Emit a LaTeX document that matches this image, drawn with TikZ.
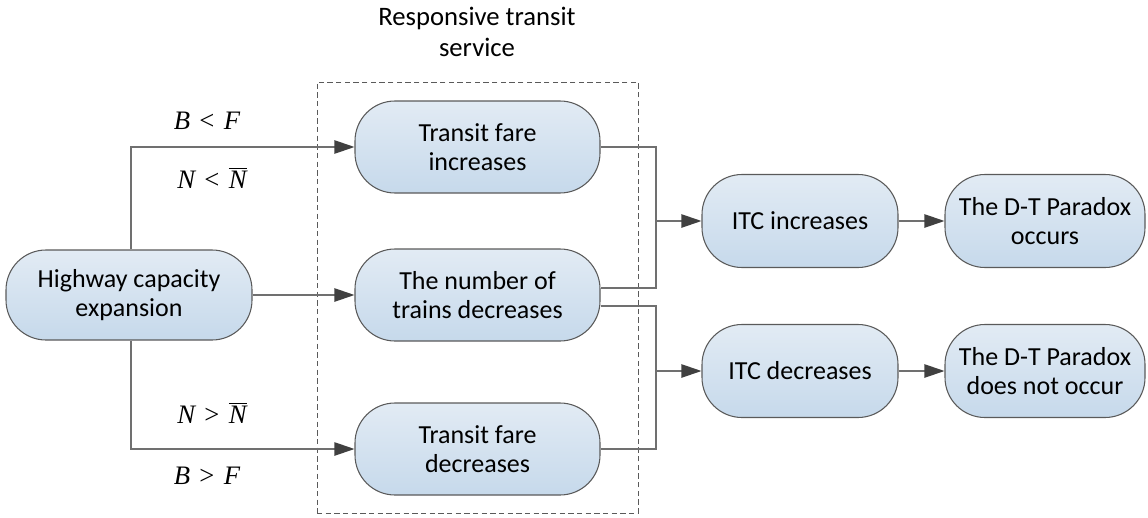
\documentclass[tikz,border=0pt]{standalone}
\usepackage{fontspec}
\setmainfont{Carlito}
\newfontfamily\serif{Liberation Serif}
\usetikzlibrary{arrows.meta,calc}
\definecolor{boxtop}{HTML}{E2EBF4}
\definecolor{boxbot}{HTML}{C6D9EB}
\definecolor{edge}{HTML}{5A5A5A}
\definecolor{wire}{HTML}{707070}
\definecolor{tip}{HTML}{404040}
\newcommand{\Nbar}{$\overline{\hbox{\serif\itshape N}}$}
\tikzset{
  pbox/.style={draw=edge, line width=0.8pt, rounded corners=30pt, top color=boxtop, bottom color=boxbot,
    align=center, font=\fontsize{19.5}{22}\selectfont, inner sep=0pt},
  wirel/.style={draw=wire, line width=1pt},
  arr/.style={wirel, -{Triangle[length=15pt,width=10pt,fill=tip,color=tip]}},
  cond/.style={font=\fontsize{20}{22}\selectfont\serif},
}
\begin{document}
\begin{tikzpicture}[x=0.75pt,y=-0.75pt]
\useasboundingbox (0,0) rectangle (1148,517);
% dashed group
\node[draw=edge, dashed, dash pattern=on 4pt off 2.5pt, line width=0.6pt, minimum width=240.75pt, minimum height=323.25pt, inner sep=0pt] (grp) at (477.5,297.5) {};
\node[font=\fontsize{20}{23}\selectfont, align=center] (title) at (477,32) {Responsive transit\\service};
% nodes
\node[pbox, minimum width=184.5pt, minimum height=67.5pt] (hw) at (129,295) {Highway capacity\\expansion};
\node[pbox, minimum width=183.75pt, minimum height=69pt] (tfi) at (477.5,147) {Transit fare\\increases};
\node[pbox, minimum width=183.75pt, minimum height=69pt] (ntd) at (477.5,295) {The number of\\trains decreases};
\node[pbox, minimum width=183.75pt, minimum height=69pt] (tfd) at (477.5,449) {Transit fare\\decreases};
\node[pbox, minimum width=147pt, minimum height=69.75pt] (itci) at (800,221) {ITC increases};
\node[pbox, minimum width=147pt, minimum height=69.75pt] (itcd) at (800,371) {ITC decreases};
\node[pbox, minimum width=150pt, minimum height=69.75pt] (dto) at (1045,221) {The D-T Paradox\\occurs};
\node[pbox, minimum width=150pt, minimum height=69.75pt] (dtn) at (1045,371) {The D-T Paradox\\does not occur};
% junctions
\coordinate (jt) at (131,147);
\coordinate (jb) at (131,449);
\coordinate (mj1) at (656,221);
\coordinate (mj2) at (656,371);
% left connectors
\draw[arr] (hw.north -| jt) -- (jt) -- (tfi.west);
\draw[arr] (hw.south -| jt) -- (jb) -- (tfd.west);
\draw[arr] (hw.east) -- (ntd.west);
% right connectors
\draw[wirel] (tfi.east) -| (mj1) |- ($(ntd.east)+(0,-7)$);
\draw[arr] (mj1) -- (itci.west);
\draw[wirel] ($(ntd.east)+(0,11)$) -| (mj2) |- (tfd.east);
\draw[arr] (mj2) -- (itcd.west);
\draw[arr] (itci) -- (dto);
\draw[arr] (itcd) -- (dtn);
% conditions
\node[cond] (c1) at (207,121) {\itshape B\hspace{0.35em}\upshape<\hspace{0.35em}\itshape F};
\node[cond] (c2) at (212,178) {\itshape N\hspace{0.35em}\upshape<\hspace{0.35em}\Nbar};
\node[cond] (c3) at (212,413) {\itshape N\hspace{0.35em}\upshape>\hspace{0.35em}\Nbar};
\node[cond] (c4) at (207,476) {\itshape B\hspace{0.35em}\upshape>\hspace{0.35em}\itshape F};
\end{tikzpicture}
\end{document}
